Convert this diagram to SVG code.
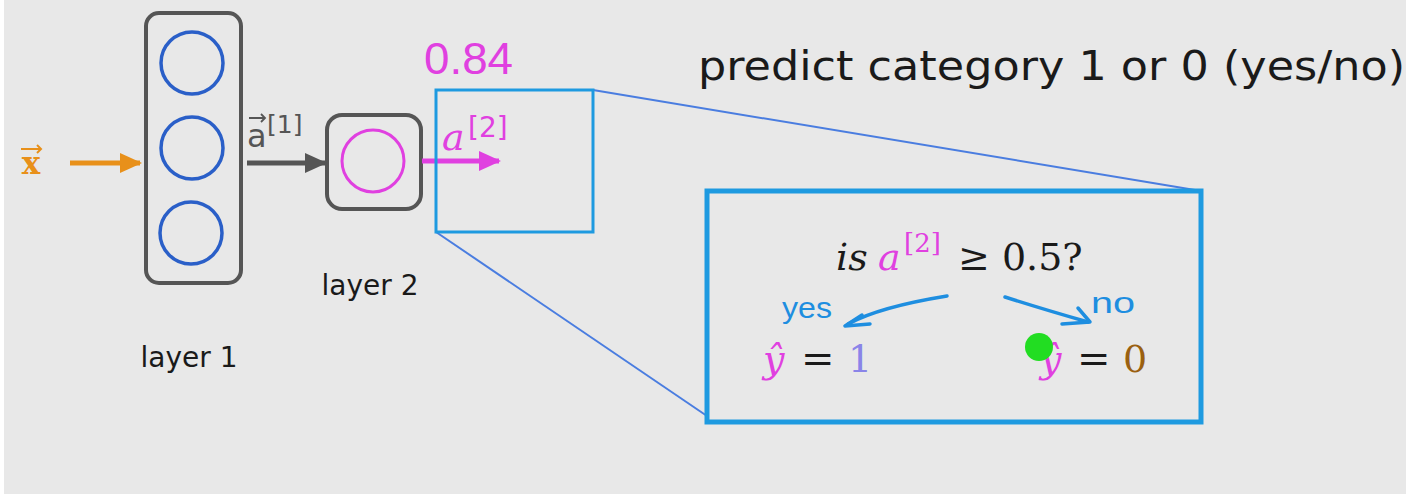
<svg xmlns="http://www.w3.org/2000/svg" width="1423" height="495" viewBox="0 0 1423 495">
<style>
.sans{font-family:"DejaVu Sans",Verdana,sans-serif}
.dark{fill:#1a1a1a}
.serif{font-family:"DejaVu Serif","Liberation Serif",serif}
.hand{font-family:"Liberation Sans",sans-serif}
.box{fill:none;stroke:#555;stroke-width:4}
.zoom{fill:none;stroke:#1e9ae0}
.guide{stroke:#4a7de0;stroke-width:2;fill:none}
.n1{fill:none;stroke:#2a5fc8;stroke-width:3.5}
</style>
<defs>
<marker id="ho" markerWidth="22" markerHeight="20" refX="20" refY="10" orient="auto" markerUnits="userSpaceOnUse"><path d="M0,0 L22,10 L0,20 z" fill="#e8901a"/></marker>
<marker id="hg" markerWidth="22" markerHeight="20" refX="20" refY="10" orient="auto" markerUnits="userSpaceOnUse"><path d="M0,0 L22,10 L0,20 z" fill="#555"/></marker>
<marker id="hp" markerWidth="22" markerHeight="20" refX="20" refY="10" orient="auto" markerUnits="userSpaceOnUse"><path d="M0,0 L22,10 L0,20 z" fill="#e040e0"/></marker>
</defs>
<rect x="0" y="0" width="1423" height="495" fill="#ffffff"/>
<rect x="4" y="0" width="1402" height="494" fill="#e8e8e8"/>

<g id="input">
<text x="31" y="174" class="serif" font-size="31" font-weight="bold" fill="#e8901a" text-anchor="middle">x</text>
<path d="M21,149 L41,149 M37,145 L41,149 L37,153" stroke="#e8901a" stroke-width="2" fill="none"/>
</g>

<g id="layer1">
<rect x="146" y="13" width="95" height="270" rx="13" class="box"/>
<circle cx="192" cy="63" r="31" class="n1"/>
<circle cx="192" cy="148" r="31" class="n1"/>
<circle cx="191" cy="233" r="31" class="n1"/>
<text x="189" y="367" class="sans dark" font-size="28" text-anchor="middle">layer 1</text>
</g>

<g id="layer2">
<rect x="327" y="115" width="94" height="94" rx="15" class="box"/>
<circle cx="373" cy="161" r="31" fill="none" stroke="#e040e0" stroke-width="3"/>
<text x="370" y="295" class="sans dark" font-size="28" text-anchor="middle">layer 2</text>
</g>

<g id="connectors">
<line x1="70" y1="163" x2="140" y2="163" stroke="#e8901a" stroke-width="5" marker-end="url(#ho)"/>
<line x1="247" y1="163" x2="325" y2="163" stroke="#555" stroke-width="5" marker-end="url(#hg)"/>
<line x1="422" y1="161" x2="499" y2="161" stroke="#e040e0" stroke-width="5" marker-end="url(#hp)"/>
<line x1="593" y1="90" x2="1201" y2="191" class="guide"/>
<line x1="436" y1="232" x2="707" y2="416" class="guide"/>
<path d="M947,296 C910,302 870,312 848,324" stroke="#1e8ee0" stroke-width="3.5" fill="none" stroke-linecap="round"/>
<path d="M862,315 L845,326 L870,324" stroke="#1e8ee0" stroke-width="3.5" fill="none" stroke-linecap="round" stroke-linejoin="round"/>
<path d="M1005,297 C1030,305 1060,314 1088,322" stroke="#1e8ee0" stroke-width="3.5" fill="none" stroke-linecap="round"/>
<path d="M1078,308 L1090,322 L1062,324" stroke="#1e8ee0" stroke-width="3.5" fill="none" stroke-linecap="round" stroke-linejoin="round"/>
</g>

<g id="labels">
<text x="247" y="147" class="sans" font-size="32" fill="#555">a</text>
<path d="M249,118 L265,118 M261,114 L265,118 L261,122" stroke="#555" stroke-width="1.8" fill="none"/>
<text x="267" y="133" class="sans" font-size="25" fill="#555">[1]</text>
<text x="442" y="150" class="serif" font-size="38" font-style="italic" fill="#e040e0">a</text>
<text x="468" y="137" class="sans" font-size="28" fill="#e040e0">[2]</text>
<text x="424" y="74" class="hand" font-size="44" fill="#e040e0" textLength="89" lengthAdjust="spacingAndGlyphs">0.84</text>
</g>

<g id="zoombox">
<rect x="436" y="90" width="157" height="142" class="zoom" stroke-width="3"/>
</g>

<g id="title">
<text x="698" y="80" class="sans dark" font-size="41" textLength="707" lengthAdjust="spacingAndGlyphs">predict category 1 or 0 (yes/no)</text>
</g>

<g id="decision">
<rect x="707" y="191" width="494" height="231" class="zoom" stroke-width="5"/>
<text x="836" y="270" class="serif" font-size="38" font-style="italic" fill="#1a1a1a">is</text>
<text x="878" y="270" class="serif" font-size="38" font-style="italic" fill="#e040e0">a</text>
<text x="904" y="252" class="serif" font-size="26" fill="#e040e0">[2]</text>
<text x="958" y="270" class="serif" font-size="38" fill="#1a1a1a">≥ 0.5?</text>
<text x="782" y="318" class="hand" font-size="30" fill="#1e8ee0" textLength="50" lengthAdjust="spacingAndGlyphs">yes</text>
<text x="1091" y="313" class="hand" font-size="30" fill="#1e8ee0" textLength="44" lengthAdjust="spacingAndGlyphs">no</text>
<text x="763" y="372" class="serif" font-size="38" font-style="italic" fill="#e040e0">ŷ</text>
<text x="801" y="372" class="serif" font-size="40" fill="#1a1a1a">=</text>
<text x="848" y="372" class="serif" font-size="38" fill="#8a84e8">1</text>
<text x="1040" y="372" class="serif" font-size="38" font-style="italic" fill="#e040e0">ŷ</text>
<text x="1077" y="372" class="serif" font-size="40" fill="#1a1a1a">=</text>
<text x="1123" y="372" class="serif" font-size="38" fill="#9a6010">0</text>
<circle cx="1039" cy="347" r="14" fill="#22dd22"/>
</g>
</svg>
